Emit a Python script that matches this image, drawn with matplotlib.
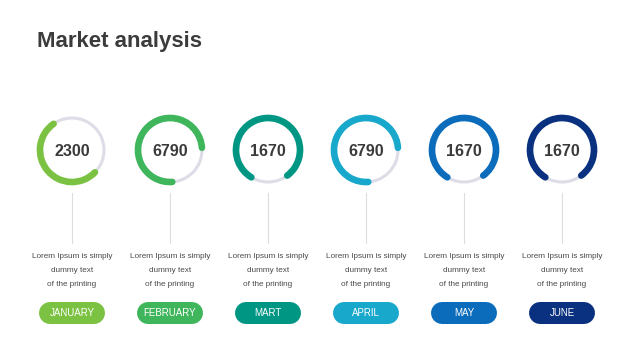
import matplotlib
matplotlib.use("Agg")
import matplotlib.pyplot as plt
from matplotlib.patches import Arc

# data
values = ["2300", "6790", "1670", "6790", "1670", "1670"]
months = ["JANUARY", "FEBRUARY", "MART", "APRIL", "MAY", "JUNE"]
shares = [0.53, 0.75, 0.81, 0.75, 0.81, 0.81]      # filled part of each ring
starts = [125, 4, -53, 4, -53, -53]                # where the filled arc begins (deg)
colors = ["#7cc242", "#3fb55c", "#009684", "#17a8cb", "#0b6cbc", "#0a3180"]
desc_lines = ["Lorem Ipsum is simply", "dummy text", "of the printing"]

W, H = 640, 360
fig = plt.figure(figsize=(6.4, 3.6), dpi=100)
ax = fig.add_axes([0, 0, 1, 1])
ax.set_xlim(0, W)
ax.set_ylim(0, H)
ax.axis("off")

font = ["Liberation Sans", "DejaVu Sans"]

ax.text(37, H - 42, "Market analysis", fontsize=16, fontweight="bold",
        color="#3b3b3b", family=font, va="center", ha="left")

x0, dx = 72, 98
cy = H - 150
r = 64  # diameter of ring (stroke centre)
for i, (v, m, s, st, c) in enumerate(zip(values, months, shares, starts, colors)):
    cx = x0 + i * dx
    ax.add_patch(Arc((cx, cy), r, r, theta1=0, theta2=360,
                     color="#dcdde6", lw=2.2))
    arc = Arc((cx, cy), r, r, theta1=st, theta2=st + 360 * s,
              color=c, lw=4.8)
    arc.set_capstyle("round")
    ax.add_patch(arc)
    ax.text(cx, cy - 1, v, fontsize=11.5, fontweight="bold", color="#3a3a3a",
            family=font, ha="center", va="center")
    ax.plot([cx, cx], [H - 193, H - 243], color="#dddddd", lw=0.8)
    for k, line in enumerate(desc_lines):
        ax.text(cx, H - (256 + 14.5 * k), line, fontsize=5.9, color="#4a4a4a",
                family=font, ha="center", va="center")
    # pill: thick line with round caps (22 px tall, 66 px wide)
    ax.plot([cx - 22, cx + 22], [H - 313, H - 313], color=c, lw=22 * 0.72,
            solid_capstyle="round")
    ax.text(cx, H - 313, m, fontsize=7, color="white", family=font,
            ha="center", va="center")

fig.savefig("out.png", dpi=100, facecolor="white")
